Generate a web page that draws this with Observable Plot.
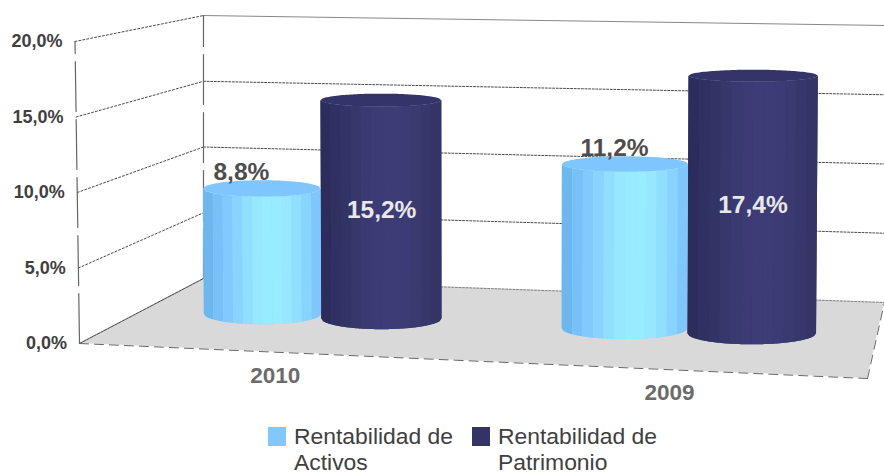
<!DOCTYPE html>
<html>
<head>
<meta charset="utf-8">
<script src="https://cdn.jsdelivr.net/npm/d3@7"></script>
<script src="https://cdn.jsdelivr.net/npm/@observablehq/plot@0.6"></script>
<style>
html,body{margin:0;padding:0;background:#fff;overflow:hidden}
#chart svg{display:block}
#legend{display:flex;height:55px;padding-left:268px;font:22.9px/26px "Liberation Sans",Arial,sans-serif;color:#404040;overflow:hidden}
.item{display:flex;align-items:flex-start}
.sw{width:18px;height:19px;margin:7px 8px 0 0;flex:none}
.item span{display:block;width:178px;padding-top:3px}
</style>
</head>
<body>
<div id="chart"></div>
<div id="legend"></div>
<script>
// ---- data ----
const years = ["2010", "2009"];
const seriesNames = ["Rentabilidad de Activos", "Rentabilidad de Patrimonio"];
const activos = [8.8, 11.2];
const patrimonio = [15.2, 17.4];
const valueTicks = [0, 5, 10, 15, 20];
const lightRamp = ["#6db7ee","#78c1f8","#81caff","#88d4ff","#90dfff","#97e8ff","#99ebff","#99ebff","#97e8ff","#90dfff","#88d3ff","#7fc7fb"];
const darkRamp  = ["#2c2d5c","#303162","#333466","#36376b","#3a3a72","#3c3b75","#3d3c77","#3d3c77","#3c3b75","#3a3a70","#37376c","#343566"];
const capColors = ["#7fc6ff", "#33346a"];
const underColors = ["#90dfff", "#39396f"];
const swatchColors = ["#80c8ff", "#333366"];

// ---- 3D box: corners of the chart volume in scale units (category axis, percent) ----
const box = {
  flb: [0, 0],          flt: [-0.0114, 20],
  frb: [2, -2.32],      frt: [2.013, 19.07],
  blb: [0.3147, 4.305], blt: [0.3147, 21.72],
  brb: [2.043, 2.715],  brt: [2.043, 21.06]
};
const pxX = 394, pxY = 15.1; // pixels per scale unit
const lerp = (a, b, t) => a + (b - a) * t;
const warp = u => u * (1 + 0.034 * (u - 2));
function P(u, d, v) {
  const s = warp(u) / 2, h = v / 20;
  const out = [0, 1].map(i => {
    const f = lerp(lerp(box.flb[i], box.frb[i], s), lerp(box.flt[i], box.frt[i], s), h);
    const b = lerp(lerp(box.blb[i], box.brb[i], s), lerp(box.blt[i], box.brt[i], s), h);
    return lerp(f, b, d);
  });
  return {x: out[0], y: out[1]};
}

// ---- geometry built from the data ----
const depth = 0.525, halfWidth = 0.168;
const ringRadius = v => 0.752 - 0.02 * v;
const bars = [];
years.forEach((year, i) => {
  [activos[i], patrimonio[i]].forEach((value, s) => {
    const u = i + 0.511 + (s === 0 ? -1 : 1) * halfWidth;
    bars.push({year, value, s, u, id: year + s});
  });
});
const sideRows = [], underRows = [], capRows = [], textRows = [];
const labelShift = [-21, 0, -11, 0];
bars.forEach((b, bi) => {
  const ramp = b.s === 0 ? lightRamp : darkRamp;
  const base = P(b.u, depth, 0), top = P(b.u, depth, b.value);
  const wB = (P(b.u + halfWidth, depth, 0).x - P(b.u - halfWidth, depth, 0).x) / 2;
  const wT = (P(b.u + halfWidth, depth, b.value).x - P(b.u - halfWidth, depth, b.value).x) / 2;
  const rT = ringRadius(top.y), rB = ringRadius(base.y);
  const row = t => {
    const c = Math.sqrt(Math.max(0, 1 - t * t));
    return {x1: top.x + wT * t, y1: top.y - rT * c, x2: base.x + wB * t, y2: base.y - rB * c};
  };
  d3.range(0, 61).forEach(j => {
    const t = -1 + 2 * j / 60;
    underRows.push({id: b.id, color: underColors[b.s], ...row(t)});
    const c = Math.sqrt(Math.max(0, 1 - t * t));
    capRows.push({id: b.id, color: capColors[b.s], x: top.x + wT * t, y1: top.y + rT * c, y2: top.y - rT * c});
  });
  ramp.forEach((color, k) => {
    const t0 = -1 + 2 * k / ramp.length, t1 = -1 + 2 * (k + 1) / ramp.length;
    d3.range(0, 7).forEach(j => {
      sideRows.push({band: b.id + k, color, ...row(lerp(t0, t1, j / 6))});
    });
  });
  const label = d3.format(".1f")(b.value).replace(".", ",") + "%";
  if (b.s === 0) {
    textRows.push({label, x: top.x + labelShift[bi] / pxX, y: top.y + rT + 8.5 / pxY, fill: "#4d4d4d"});
  } else {
    textRows.push({label, x: (top.x + base.x) / 2, y: (top.y + base.y) / 2, fill: "#e8e8e8"});
  }
});

// floor
const floorRows = [
  {a: P(0, 0, 0), b: P(2, 0, 0)},
  {a: P(0, 1, 0), b: P(2, 1, 0)}
].map(r => ({x1: r.a.x, y1: r.a.y, x2: r.b.x, y2: r.b.y}));

// grid lines on the side wall and the back wall
const wallRows = valueTicks.slice(1).flatMap(v => [
  {...P(0, 0, v), id: "s" + v}, {...P(0, 1, v), id: "s" + v}
]);
const backRows = valueTicks.flatMap(v => [
  {...P(0, 1, v), id: "b" + v, v}, {...P(2, 1, v), id: "b" + v, v}
]);
const edgeRows = [
  {...P(0, 0, 0), id: "front"}, {...P(0, 0, 20), id: "front"},
  {...P(0, 1, 0), id: "back"}, {...P(0, 1, 20), id: "back"}
];
const floorEdgeRows = [
  {...P(0, 0, 0), id: "f"}, {...P(2, 0, 0), id: "f"},
  {...P(2, 0, 0), id: "r"}, {...P(2, 1, 0), id: "r"}
];
const floorLeftRows = [P(0, 0, 0), P(0, 1, 0)];
const tickRows = valueTicks.map(v => ({...P(0, 0, v), label: d3.format(".1f")(v).replace(".", ",") + "%"}));
const yearRows = years.map((year, i) => ({...P(i + 0.515, 0, 0), year}));

const font = '"Liberation Sans", Arial, sans-serif';
const chart = Plot.plot({
  width: 884, height: 420,
  marginTop: 0, marginRight: 0, marginBottom: 0, marginLeft: 0,
  style: {background: "#fff", fontFamily: font},
  x: {domain: [0, 2], range: [79, 867], axis: null},
  y: {domain: [0, 20], range: [343, 41], axis: null},
  color: {type: "identity"},
  marks: [
    Plot.area(floorRows, {x1: "x1", y1: "y1", x2: "x2", y2: "y2", fill: "#d9d9d9"}),
    Plot.line(wallRows, {x: "x", y: "y", z: "id", stroke: "#333", strokeWidth: 0.9, strokeDasharray: "2 2"}),
    Plot.line(backRows.filter(d => d.v > 0 && d.v < 20), {x: "x", y: "y", z: "id", stroke: "#333", strokeWidth: 0.9, strokeDasharray: "2 1.6"}),
    Plot.line(backRows.filter(d => d.v === 20), {x: "x", y: "y", z: "id", stroke: "#888", strokeWidth: 1}),
    Plot.line(backRows.filter(d => d.v === 0), {x: "x", y: "y", z: "id", stroke: "#777", strokeWidth: 0.9, strokeDasharray: "2 1.6"}),
    Plot.line(edgeRows, {x: "x", y: "y", z: "id", stroke: "#666", strokeWidth: 1.2, strokeDasharray: "50 8"}),
    Plot.line(floorLeftRows, {x: "x", y: "y", stroke: "#333", strokeWidth: 0.9, strokeDasharray: "3 1"}),
    Plot.line(floorEdgeRows, {x: "x", y: "y", z: "id", stroke: "#666", strokeWidth: 1, strokeDasharray: "9 6"}),
    Plot.area(underRows, {x1: "x1", y1: "y1", x2: "x2", y2: "y2", z: "id", fill: "color"}),
    Plot.area(sideRows, {x1: "x1", y1: "y1", x2: "x2", y2: "y2", z: "band", fill: "color"}),
    Plot.area(capRows, {x1: "x", y1: "y1", x2: "x", y2: "y2", z: "id", fill: "color"}),
    Plot.text(textRows, {x: "x", y: "y", text: "label", fill: "fill", fontSize: 24.5, fontWeight: "bold", fontFamily: font}),
    Plot.text(tickRows, {x: "x", y: "y", text: "label", dx: -12.5, textAnchor: "end", fontSize: 18, fontWeight: "bold", fill: "#404040", fontFamily: font}),
    Plot.text(yearRows, {x: "x", y: "y", text: "year", dx: 3, dy: 23.5, fontSize: 22.5, fontWeight: "bold", fill: "#6b6b6b", fontFamily: font})
  ]
});
document.getElementById("chart").appendChild(chart);

// legend
const legend = d3.select("#legend");
seriesNames.forEach((name, i) => {
  const item = legend.append("div").attr("class", "item");
  item.append("div").attr("class", "sw").style("background", swatchColors[i]);
  item.append("span").text(name);
});
</script>
</body>
</html>
